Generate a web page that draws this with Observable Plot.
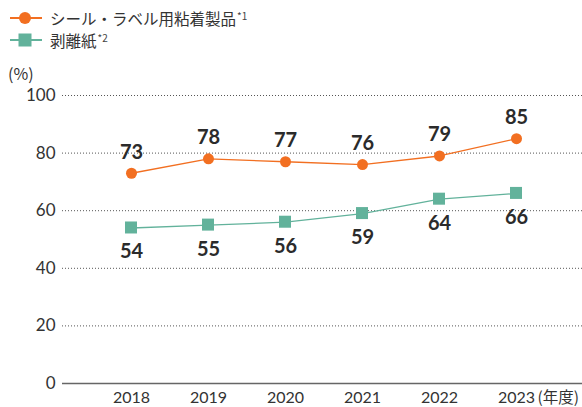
<!DOCTYPE html>
<html><head><meta charset="utf-8">
<script src="https://cdn.jsdelivr.net/npm/d3@7"></script>
<script src="https://cdn.jsdelivr.net/npm/@observablehq/plot@0.6"></script>
<style>
body{margin:0;background:#fff;font-family:"Noto Sans CJK JP","Noto Sans",sans-serif;}
#wrap{position:relative;width:582px;height:407px;overflow:hidden;}
#legend{position:absolute;left:0;top:0;}
.item{position:absolute;left:10px;display:flex;align-items:center;white-space:nowrap;font-size:15.5px;color:#333;}
.item sup{font-size:10px;vertical-align:top;position:relative;top:-3px;margin-left:1px;color:#444;}
#unit{position:absolute;left:8px;top:61px;font-size:16px;color:#333;font-family:"Noto Sans CJK JP",sans-serif;}
#chart{position:absolute;left:0;top:0;}
</style></head>
<body><div id="wrap"><div id="chart"></div><div id="legend"></div><div id="unit">(%)</div></div>
<script>
const years = [2018, 2019, 2020, 2021, 2022, 2023];
const labelSeries = [73, 78, 77, 76, 79, 85];
const linerSeries = [54, 55, 56, 59, 64, 66];
const seriesNames = ["シール・ラベル用粘着製品", "剥離紙"];
const seriesNotes = ["*1", "*2"];
const yTicks = [0, 20, 40, 60, 80, 100];
const colors = ["#f26f21", "#62b29b"];

const dataA = years.map((y, i) => ({year: y, v: labelSeries[i]}));
const dataB = years.map((y, i) => ({year: y, v: linerSeries[i]}));

const chart = Plot.plot({
  width: 582, height: 407,
  marginTop: 95, marginBottom: 24, marginLeft: 62, marginRight: 0,
  style: {fontFamily: "Lato, 'Noto Sans', sans-serif", background: "transparent"},
  x: {type: "linear", domain: [2017.104, 2023.857], axis: null},
  y: {domain: [0, 100], axis: null},
  marks: [
    Plot.gridY(yTicks.filter(d => d > 0), {stroke: "#555", strokeOpacity: 1, strokeWidth: 1, strokeDasharray: "1,2"}),
    Plot.ruleY([0], {stroke: "#666", strokeWidth: 1.5}),
    Plot.axisY(yTicks, {tickSize: 0, tickPadding: 7, fontSize: 17, fill: "#333", label: null, tickFormat: d => String(d), fontFamily: "Lato, sans-serif"}),
    Plot.axisX(years, {tickSize: 0, tickPadding: 8, fontSize: 16, fill: "#333", label: null, tickFormat: d => String(d), fontFamily: "Lato, sans-serif"}),
    Plot.text(["(年度)"], {x: () => 2023, y: () => 0, dx: 21, dy: 15, textAnchor: "start", fontSize: 15.5, fill: "#333", fontFamily: "Noto Sans CJK JP"}),
    Plot.line(dataA, {x: "year", y: "v", stroke: colors[0], strokeWidth: 1.3}),
    Plot.line(dataB, {x: "year", y: "v", stroke: colors[1], strokeWidth: 1.3}),
    Plot.dot(dataA, {x: "year", y: "v", r: 5.5, fill: colors[0], symbol: "circle"}),
    Plot.rect(dataB, {x1: d => d.year, x2: d => d.year, y1: "v", y2: "v", inset: -6, fill: colors[1]}),
    Plot.text(dataA, {x: "year", y: "v", text: d => String(d.v), dy: -21, fontSize: 20, fontWeight: "bold", fill: "#2b2b2b"}),
    Plot.text(dataB, {x: "year", y: "v", text: d => String(d.v), dy: 24, fontSize: 20, fontWeight: "bold", fill: "#2b2b2b"})
  ]
});
document.getElementById("chart").appendChild(chart);

const legend = document.getElementById("legend");
seriesNames.forEach((name, i) => {
  const el = document.createElement("div");
  el.className = "item";
  el.style.top = (i === 0 ? 7 : 29) + "px";
  const mk = i === 0
    ? `<circle cx="15" cy="11" r="6" fill="${colors[0]}"/>`
    : `<rect x="8.5" y="4.5" width="13" height="13" fill="${colors[1]}"/>`;
  el.innerHTML = `<svg width="32" height="22" style="margin-right:8px"><line x1="0" x2="32" y1="11" y2="11" stroke="${colors[i]}" stroke-width="2"/>${mk}</svg><span>${name}</span><sup>${seriesNotes[i]}</sup>`;
  legend.appendChild(el);
});
</script></body></html>
